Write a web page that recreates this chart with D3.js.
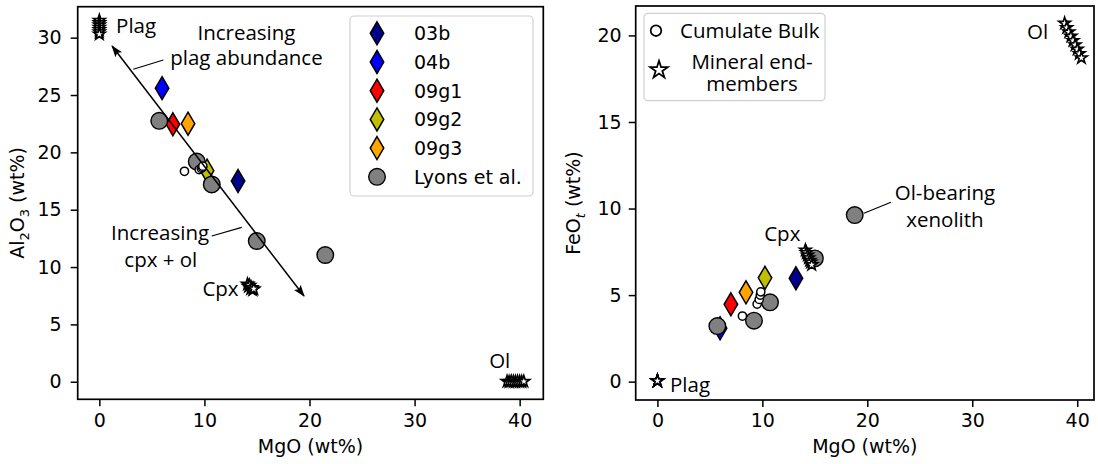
<!DOCTYPE html>
<html>
<head>
<meta charset="utf-8">
<script src="https://cdn.jsdelivr.net/npm/d3@7"></script>
<style>
  html, body { margin: 0; padding: 0; background: #fff; }
  svg { display: block; }
  .tick text, .lab { font-family: "DejaVu Sans", sans-serif; }
  .ann { font-family: "Open Sans", sans-serif; font-size: 20.5px; fill: #000; }
</style>
</head>
<body>
<svg id="fig" width="1098" height="464"></svg>
<script>
// ---- samples (diamonds) ----
const samples   = ["03b", "04b", "09g1", "09g2", "09g3"];
const sampleCol = ["#00008b", "#0000ff", "#ff0000", "#bfbf00", "#ffa500"];
const sampleMgO = [13.2, 5.97, 7.0, 10.25, 8.44];
const sampleAl  = [17.5, 25.6, 22.45, 18.4, 22.5];
const sampleFeO = [5.97, 3.08, 4.47, 6.0, 5.16];

// ---- Lyons et al. ----
const lyonsMgO   = [5.7, 9.27, 10.7, 14.98, 21.5];
const lyonsAl    = [22.75, 19.2, 17.2, 12.27, 11.05];
const lyonsFeMgO = [5.71, 9.2, 10.73, 15.0, 18.8];
const lyonsFeO   = [3.21, 3.52, 4.58, 7.12, 9.62];

// ---- cumulate bulk compositions ----
const cumMgO = [8.1, 9.5, 9.7, 9.8, 9.85];
const cumAl  = [18.35, 18.5, 18.6, 18.7, 18.8];
const cumFeO = [3.79, 4.48, 4.75, 5.0, 5.19];

// ---- mineral end-members ----
const plagMgO = [0, 0, 0, 0, 0, 0, 0];
const plagAl  = [31.5, 31.3, 31.1, 30.9, 30.7, 30.5, 30.3];
const plagFeO = [0.05, 0.04, 0.06, 0.03, 0.05, 0.02, 0.04];

const cpxMgO = [14.1, 14.2, 14.3, 14.4, 14.5, 14.6, 14.7];
const cpxAl  = [8.5, 8.3, 8.4, 8.1, 8.2, 8.0, 8.1];
const cpxFeO = [7.6, 7.45, 7.3, 7.15, 7.0, 6.9, 6.75];

const olMgO = [38.8, 39.0, 39.2, 39.4, 39.6, 39.8, 40.0, 40.2, 40.4];
const olAl  = [0.02, 0.0, 0.03, 0.01, 0.0, 0.02, 0.01, 0.0, 0.02];
const olFeO = [20.7, 20.45, 20.2, 19.95, 19.7, 19.45, 19.2, 18.95, 18.7];

// ---- ticks ----
const xTicks  = [0, 10, 20, 30, 40];
const alTicks = [0, 5, 10, 15, 20, 25, 30];
const feTicks = [0, 5, 10, 15, 20];

const svg = d3.select("#fig");

// thin diamond path centred on origin
function thinDiamond(w, h) {
  return `M0,${-h/2}L${w/2},0L0,${h/2}L${-w/2},0Z`;
}
const starPath = d3.symbol().type(d3.symbolStar).size(42)();
const starBig  = d3.symbol().type(d3.symbolStar).size(95)();

function panel(cfg) {
  const x = d3.scaleLinear().domain(cfg.xd).range([cfg.x0, cfg.x1]);
  const y = d3.scaleLinear().domain(cfg.yd).range([cfg.y1, cfg.y0]);
  const g = svg.append("g");

  // axes
  const ax = g.append("g").attr("transform", `translate(0,${cfg.y1})`)
    .call(d3.axisBottom(x).tickValues(xTicks).tickFormat(d3.format("d")).tickSize(7).tickPadding(7));
  const ay = g.append("g").attr("transform", `translate(${cfg.x0},0)`)
    .call(d3.axisLeft(y).tickValues(cfg.yTicks).tickFormat(d3.format("d")).tickSize(7).tickPadding(cfg.yPad));
  [ax, ay].forEach(a => {
    a.select(".domain").remove();
    a.selectAll(".tick line").attr("stroke", "#000").attr("stroke-width", 1.5);
    a.selectAll(".tick text").attr("font-size", 19).attr("fill", "#000");
  });

  // axis titles
  g.append("text").attr("class", "lab").attr("x", (cfg.x0 + cfg.x1) / 2).attr("y", 453)
    .attr("text-anchor", "middle").attr("font-size", 19).text("MgO (wt%)");
  const yl = g.append("text").attr("class", "lab")
    .attr("transform", `translate(${cfg.ylx},${(cfg.y0 + cfg.y1) / 2}) rotate(-90)`)
    .attr("text-anchor", "middle").attr("font-size", 19);
  cfg.ylabel(yl);

  const clip = "clip" + cfg.id;
  g.append("clipPath").attr("id", clip).append("rect")
    .attr("x", cfg.x0).attr("y", cfg.y0).attr("width", cfg.x1 - cfg.x0).attr("height", cfg.y1 - cfg.y0);
  const plot = g.append("g").attr("clip-path", `url(#${clip})`);

  return { g, plot, x, y };
}

function frame(p, cfg) {
  p.g.append("rect").attr("x", cfg.x0).attr("y", cfg.y0)
    .attr("width", cfg.x1 - cfg.x0).attr("height", cfg.y1 - cfg.y0)
    .attr("fill", "none").attr("stroke", "#000").attr("stroke-width", 1.7);
}

function drawDiamonds(p, yv) {
  p.plot.selectAll(null).data(samples).join("path")
    .attr("d", thinDiamond(13.5, 23))
    .attr("transform", (d, i) => `translate(${p.x(sampleMgO[i])},${p.y(yv[i])})`)
    .attr("fill", (d, i) => sampleCol[i]).attr("stroke", "#000").attr("stroke-width", 1.5);
}
function drawCircles(p, xv, yv, r, fill, sw) {
  p.plot.selectAll(null).data(xv).join("circle")
    .attr("cx", (d) => p.x(d)).attr("cy", (d, i) => p.y(yv[i])).attr("r", r)
    .attr("fill", fill).attr("stroke", "#000").attr("stroke-width", sw);
}
function drawStars(p, xv, yv) {
  p.plot.selectAll(null).data(xv).join("path")
    .attr("d", starPath)
    .attr("transform", (d, i) => `translate(${p.x(d)},${p.y(yv[i])})`)
    .attr("fill", "#fff").attr("stroke", "#000").attr("stroke-width", 1.6).attr("stroke-linejoin", "miter");
}
function ann(p, txt, mx, my, anchor) {
  p.g.append("text").attr("class", "ann").attr("x", p.x(mx)).attr("y", p.y(my))
    .attr("text-anchor", anchor || "start").text(txt);
}
function leader(p, a, b) {
  p.g.append("line").attr("x1", p.x(a[0])).attr("y1", p.y(a[1]))
    .attr("x2", p.x(b[0])).attr("y2", p.y(b[1]))
    .attr("stroke", "#000").attr("stroke-width", 1.1);
}

// arrow head marker
const defs = svg.append("defs");
defs.append("marker").attr("id", "ahead").attr("viewBox", "0 0 12 10")
  .attr("refX", 11).attr("refY", 5).attr("markerWidth", 12).attr("markerHeight", 10)
  .attr("markerUnits", "userSpaceOnUse").attr("orient", "auto-start-reverse")
  .append("path").attr("d", "M0,0.8L12,5L0,9.2L2.5,5Z").attr("fill", "#000");

// ================= Al2O3 vs MgO =================
const cfgA = { id: "A", x0: 77.7, x1: 543.3, y0: 6.7, y1: 399.3, xd: [-2.06, 42.25], yd: [-1.53, 32.7],
  yTicks: alTicks, yPad: 9, ylx: 24,
  ylabel: t => { t.append("tspan").text("Al");
                 t.append("tspan").attr("font-size", 13).attr("dy", 5).text("2");
                 t.append("tspan").attr("dy", -5).text("O");
                 t.append("tspan").attr("font-size", 13).attr("dy", 5).text("3");
                 t.append("tspan").attr("dy", -5).text(" (wt%)"); } };
const A = panel(cfgA);
drawDiamonds(A, sampleAl);
drawCircles(A, lyonsMgO, lyonsAl, 8.3, "#808080", 1.4);
drawCircles(A, cumMgO, cumAl, 4.1, "#fff", 1.5);
drawStars(A, plagMgO, plagAl);
drawStars(A, cpxMgO, cpxAl);
drawStars(A, olMgO, olAl);

// mixing arrow
A.g.append("line")
  .attr("x1", A.x(1.21)).attr("y1", A.y(29.27)).attr("x2", A.x(19.48)).attr("y2", A.y(7.47))
  .attr("stroke", "#000").attr("stroke-width", 1.5)
  .attr("marker-start", "url(#ahead)").attr("marker-end", "url(#ahead)");

ann(A, "Plag", 1.59, 30.37);
ann(A, "Increasing", 14.0, 29.79, "middle");
ann(A, "plag abundance", 14.0, 27.6, "middle");
leader(A, [3.23, 27.24], [6.09, 28.06]);
ann(A, "Increasing", 5.78, 12.35, "middle");
ann(A, "cpx + ol", 5.85, 10.03, "middle");
leader(A, [10.7, 12.7], [13.55, 13.46]);
ann(A, "Cpx", 13.25, 7.47, "end");
ann(A, "Ol", 38.1, 1.19, "middle");
frame(A, cfgA);

// legend (samples + Lyons)
const legA = A.g.append("g");
legA.append("rect").attr("x", 350).attr("y", 16).attr("width", 183).attr("height", 180).attr("rx", 4)
  .attr("fill", "#fff").attr("fill-opacity", 0.8).attr("stroke", "#d0d0d0").attr("stroke-width", 1.2);
const legLabels = samples.concat(["Lyons et al."]);
legLabels.forEach((s, i) => {
  const cy = 33.3 + i * 28.7;
  if (i < samples.length) {
    legA.append("path").attr("d", thinDiamond(13.5, 23)).attr("transform", `translate(377,${cy})`)
      .attr("fill", sampleCol[i]).attr("stroke", "#000").attr("stroke-width", 1.5);
  } else {
    legA.append("circle").attr("cx", 377).attr("cy", cy).attr("r", 8.3)
      .attr("fill", "#808080").attr("stroke", "#000").attr("stroke-width", 1.4);
  }
  legA.append("text").attr("class", "lab").attr("x", 414).attr("y", cy + 7)
    .attr("font-size", 19).text(s);
});

// ================= FeOt vs MgO =================
const cfgF = { id: "F", x0: 635.7, x1: 1094, y0: 6, y1: 400, xd: [-2.07, 41.6], yd: [-1.06, 21.7],
  yTicks: feTicks, yPad: 7, ylx: 580,
  ylabel: t => { t.append("tspan").text("FeO");
                 t.append("tspan").attr("font-size", 13).attr("font-style", "italic").attr("dy", 5).text("t");
                 t.append("tspan").attr("dy", -5).text(" (wt%)"); } };
const F = panel(cfgF);
drawDiamonds(F, sampleFeO);
drawCircles(F, lyonsFeMgO, lyonsFeO, 8.3, "#808080", 1.4);
drawCircles(F, cumMgO, cumFeO, 4.1, "#fff", 1.5);
drawStars(F, plagMgO, plagFeO);
drawStars(F, cpxMgO, cpxFeO);
drawStars(F, olMgO, olFeO);

ann(F, "Ol", 37.24, 19.8, "end");
ann(F, "Cpx", 11.9, 8.1, "middle");
ann(F, "Ol-bearing", 27.4, 10.49, "middle");
ann(F, "xenolith", 27.4, 8.93, "middle");
leader(F, [19.68, 9.73], [22.25, 10.37]);
ann(F, "Plag", 1.2, -0.58);
frame(F, cfgF);

// legend (symbol key)
const legF = F.g.append("g");
legF.append("rect").attr("x", 644).attr("y", 13.3).attr("width", 181).attr("height", 87.4).attr("rx", 4)
  .attr("fill", "#fff").attr("fill-opacity", 0.8).attr("stroke", "#d0d0d0").attr("stroke-width", 1.2);
legF.append("circle").attr("cx", 656).attr("cy", 30.7).attr("r", 5.3)
  .attr("fill", "#fff").attr("stroke", "#000").attr("stroke-width", 1.8);
legF.append("path").attr("d", starBig).attr("transform", "translate(659,70)")
  .attr("fill", "#fff").attr("stroke", "#000").attr("stroke-width", 1.8);
legF.append("text").attr("class", "ann").attr("x", 680).attr("y", 38).text("Cumulate Bulk");
legF.append("text").attr("class", "ann").attr("x", 752).attr("y", 69).attr("text-anchor", "middle").text("Mineral end-");
legF.append("text").attr("class", "ann").attr("x", 752).attr("y", 91).attr("text-anchor", "middle").text("members");
</script>
</body>
</html>
